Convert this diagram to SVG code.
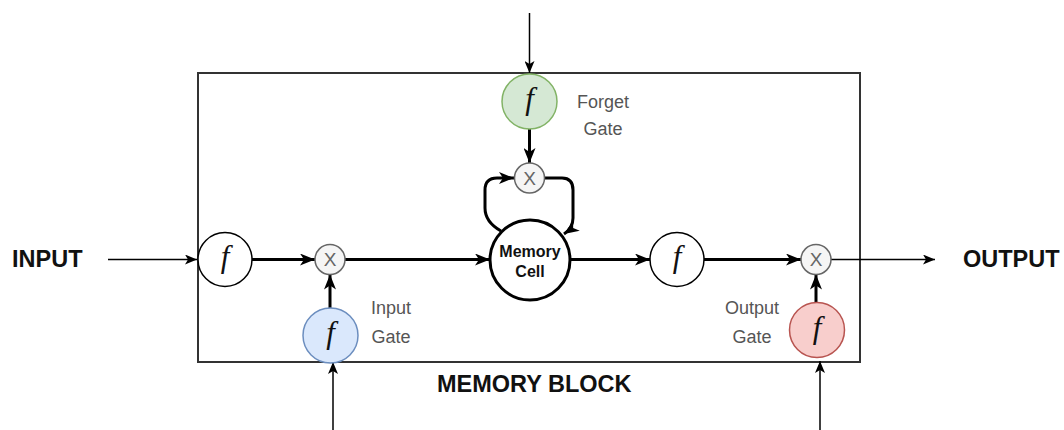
<svg xmlns="http://www.w3.org/2000/svg" width="1064" height="430" viewBox="0 0 1064 430">
<defs>
<marker id="thin" viewBox="0 0 12 10" refX="12" refY="5" markerWidth="12" markerHeight="10" markerUnits="userSpaceOnUse" orient="auto">
<path d="M0,0 L12,5 L0,10 L3,5 Z" fill="#000"/>
</marker>
<marker id="thick" viewBox="0 0 15 12" refX="15" refY="6" markerWidth="15" markerHeight="12" markerUnits="userSpaceOnUse" orient="auto">
<path d="M0,0 L15,6 L0,12 L4,6 Z" fill="#000"/>
</marker>
<style>
.box{fill:none;stroke:#333;stroke-width:2}
.thin{fill:none;stroke:#000;stroke-width:1.5;marker-end:url(#thin)}
.thick{fill:none;stroke:#000;stroke-width:3;marker-end:url(#thick)}
.fn{fill:#fff;stroke:#000;stroke-width:1.5}
.mul{fill:#f5f5f5;stroke:#666;stroke-width:1.5}
.green{fill:#d5e8d4;stroke:#82b366;stroke-width:1.5}
.blue{fill:#dae8fc;stroke:#6c8ebf;stroke-width:1.5}
.red{fill:#f8cecc;stroke:#b85450;stroke-width:1.5}
.f{font-family:"Liberation Serif",serif;font-style:italic;font-size:31px;fill:#111;text-anchor:middle}
.x{font-family:"Liberation Sans",Arial,sans-serif;font-size:19px;fill:#666;text-anchor:middle}
.lbl{font-family:"Liberation Sans",Arial,sans-serif;font-size:18px;fill:#555;text-anchor:middle}
.big{font-family:"Liberation Sans",Arial,sans-serif;font-size:23.5px;font-weight:bold;fill:#111}
.cell{font-family:"Liberation Sans",Arial,sans-serif;font-size:16px;font-weight:bold;fill:#111;text-anchor:middle}
</style>
</defs>
<rect id="memory-block" class="box" x="198" y="73" width="662" height="289"/>
<g id="connectors">
<path class="thin" d="M108,259.5 L197,259.5"/>
<path class="thin" d="M831,259.5 L935,259.5"/>
<path class="thin" d="M529.5,13 L529.5,73"/>
<path class="thin" d="M333,430 L333,362"/>
<path class="thin" d="M820,430 L820,361"/>
<path class="thick" d="M252,259.5 L315,259.5"/>
<path class="thick" d="M330,308 L330,274.5"/>
<path class="thick" d="M345,259.5 L490,259.5"/>
<path class="thick" d="M570,259.5 L650,259.5"/>
<path class="thick" d="M704,259.5 L801,259.5"/>
<path class="thick" d="M816,303 L816,274.5"/>
<path class="thick" d="M529.5,129 L529.5,163"/>
<path class="thick" d="M501,231 Q485,222 485,208 L485,190 Q485,178 497,178 L514,178"/>
<path class="thick" d="M544.5,178 L562,178 Q573,178 573,190 L573,218 Q573,228 564,234"/>
</g>
<g id="input-f"><circle class="fn" cx="225" cy="259.5" r="27"/><text class="f" x="225" y="267">f</text></g>
<g id="input-mul"><circle class="mul" cx="330" cy="259.5" r="15"/><text class="x" x="330" y="266.3">X</text></g>
<g id="input-gate"><circle class="blue" cx="330.5" cy="335.5" r="27.5"/><text class="f" x="330.5" y="343">f</text></g>
<g id="forget-gate"><circle class="green" cx="529.5" cy="101.5" r="27.5"/><text class="f" x="529.5" y="109">f</text></g>
<g id="forget-mul"><circle class="mul" cx="529.5" cy="178" r="15"/><text class="x" x="529.5" y="184.8">X</text></g>
<g id="memory-cell"><circle fill="#fff" stroke="#000" stroke-width="3" cx="530" cy="260" r="40"/><text class="cell" x="530" y="257">Memory</text><text class="cell" x="530" y="277">Cell</text></g>
<g id="output-f"><circle class="fn" cx="677" cy="259.5" r="27"/><text class="f" x="677" y="267">f</text></g>
<g id="output-mul"><circle class="mul" cx="816" cy="259.5" r="15"/><text class="x" x="816" y="266.3">X</text></g>
<g id="output-gate"><circle class="red" cx="817" cy="330" r="27.5"/><text class="f" x="817" y="337.5">f</text></g>
<g id="labels">
<text class="lbl" x="603" y="108">Forget</text><text class="lbl" x="603" y="135">Gate</text>
<text class="lbl" x="391" y="314">Input</text><text class="lbl" x="391" y="343">Gate</text>
<text class="lbl" x="752" y="314">Output</text><text class="lbl" x="752" y="343">Gate</text>
<text class="big" x="12" y="267">INPUT</text>
<text class="big" x="963" y="267">OUTPUT</text>
<text class="big" x="437" y="392">MEMORY BLOCK</text>
</g>
</svg>
